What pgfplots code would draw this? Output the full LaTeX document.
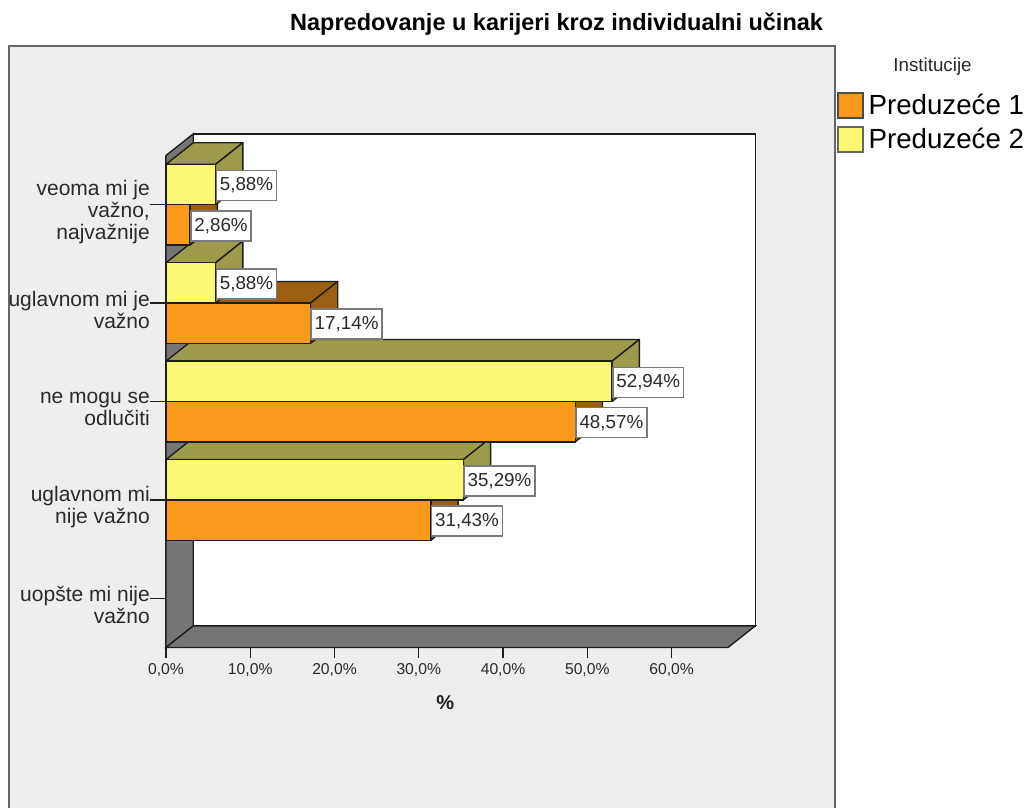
\documentclass[border=0pt]{standalone}
\usepackage{fontspec}
\setmainfont{Liberation Sans}
\usepackage{pgfplots}
\pgfplotsset{compat=1.18}
\definecolor{panel}{HTML}{EEEEEE}
\definecolor{framec}{HTML}{666666}
\definecolor{wall}{HTML}{757575}
\definecolor{ink}{HTML}{1E1E1E}
\definecolor{txt}{HTML}{2A2A2A}
\definecolor{ofront}{HTML}{FB991C}
\definecolor{oside}{HTML}{9C5F10}
\definecolor{yfront}{HTML}{FBF872}
\definecolor{yside}{HTML}{9D9B4B}
\definecolor{lab}{HTML}{7A7A7A}
% front colour, side colour, value, value+depth, y0, y1, y0+depth, y1+depth
\newcommand\threeD[8]{%
  \addplot[forget plot,fill=#2,draw=ink,line width=1.4pt,line join=round] coordinates {(0,#6)(#3,#6)(#4,#8)(3.24,#8)} --cycle;
  \addplot[forget plot,fill=#2,draw=ink,line width=1.4pt,line join=round] coordinates {(#3,#5)(#3,#6)(#4,#8)(#4,#7)} --cycle;
  \addplot[forget plot,fill=#1,draw=ink,line width=1.4pt,line join=round] coordinates {(0,#5)(#3,#5)(#3,#6)(0,#6)} --cycle;
}
\newcommand\lbl[2]{\node[anchor=west,fill=white,draw=lab,line width=1.6pt,inner xsep=3.5pt,inner ysep=0pt,minimum height=30pt,font=\fontsize{18.8}{20}\selectfont,text=txt,yshift=-1pt] at (axis cs:#1) {#2};}
\begin{document}
\begin{tikzpicture}[x=1pt,y=1pt]
\path[use as bounding box] (0,0) rectangle (1028,807);
\fill[panel] (9,-2) rectangle (835,761);
\draw[framec,line width=1.6pt] (9,-2) -- (9,761) -- (835,761) -- (835,-2);
\begin{axis}[
  at={(166pt,159.5pt)},anchor=south west,
  scale only axis,width=562pt,height=492pt,
  xmin=0,xmax=66.7,ymin=-0.5,ymax=4.5,
  clip=false,
  axis x line=bottom,axis y line=left,
  axis line style={-,draw=ink,line width=1.4pt},
  tick align=outside,major tick length=10pt,minor tick length=16pt,
  tick style={draw=ink,line width=1.3pt},
  xtick={0,10,20,30,40,50,60},
  xticklabels={{0,0\%},{10,0\%},{20,0\%},{30,0\%},{40,0\%},{50,0\%},{60,0\%}},
  x tick label style={font=\fontsize{15.7}{17}\selectfont,text=txt,inner sep=0pt,yshift=-6pt},
  ytick={0,1,2,3,4},
  minor ytick={0,1,2,3,4},
  yticklabels={{uopšte mi nije\\važno},{uglavnom mi\\nije važno},{ne mogu se\\odlučiti},{uglavnom mi je\\važno},{veoma mi je\\važno,\\najvažnije}},
  y tick label style={font=\fontsize{21}{22}\selectfont,text=txt,align=right,inner sep=0pt,xshift=-6pt,yshift=-7pt},
  xlabel={\%},
  x label style={font=\fontsize{20}{22}\selectfont\bfseries,text=ink,at={(axis description cs:0.4967,-0.112)},anchor=center},
  title={Napredovanje u karijeri kroz individualni učinak},
  title style={font=\fontsize{23.5}{25}\selectfont\bfseries,text=black,at={(axis description cs:0.695,1.254)},anchor=center},
  legend style={at={(axis cs:79.63,5.145)},anchor=north west,draw=none,fill=none,inner sep=0pt,
    font=\fontsize{27.7}{30}\selectfont,text=black,row sep=7.5pt,
    /tikz/every even column/.style={column sep=0pt}},
  legend cell align=left,
  legend image code/.code={\draw[#1] (0pt,-12.5pt) rectangle (25pt,12.5pt);},
]
% walls
\addplot[forget plot,fill=white,draw=ink,line width=1.4pt] coordinates {(3.24,-0.28)(69.94,-0.28)(69.94,4.72)(3.24,4.72)} --cycle;
\addplot[forget plot,fill=wall,draw=ink,line width=1.4pt] coordinates {(0,-0.5)(3.24,-0.28)(3.24,4.72)(0,4.5)} --cycle;
\addplot[forget plot,fill=wall,draw=ink,line width=1.4pt] coordinates {(0,-0.5)(3.24,-0.28)(69.94,-0.28)(66.7,-0.5)} --cycle;
% bars
\threeD{ofront}{oside}{31.43}{34.67}{0.59}{1}{0.81}{1.22}
\threeD{yfront}{yside}{35.29}{38.53}{1}{1.41}{1.22}{1.63}
\threeD{ofront}{oside}{48.57}{51.81}{1.59}{2}{1.81}{2.22}
\threeD{yfront}{yside}{52.94}{56.18}{2}{2.41}{2.22}{2.63}
\threeD{ofront}{oside}{17.14}{20.38}{2.59}{3}{2.81}{3.22}
\threeD{yfront}{yside}{5.88}{9.12}{3}{3.41}{3.22}{3.63}
\threeD{ofront}{oside}{2.86}{6.10}{3.59}{4}{3.81}{4.22}
\threeD{yfront}{yside}{5.88}{9.12}{4}{4.41}{4.22}{4.63}
% labels
\lbl{31.43,0.795}{31,43\%}
\lbl{35.29,1.205}{35,29\%}
\lbl{48.57,1.795}{48,57\%}
\lbl{52.94,2.205}{52,94\%}
\lbl{17.14,2.795}{17,14\%}
\lbl{5.88,3.205}{5,88\%}
\lbl{2.86,3.795}{2,86\%}
\lbl{5.88,4.205}{5,88\%}
\addlegendimage{fill=ofront,draw=ink!80!white,line width=1.4pt}
\addlegendentry{\hspace{3pt}Preduzeće 1}
\addlegendimage{fill=yfront,draw=framec,line width=1.4pt}
\addlegendentry{\hspace{3pt}Preduzeće 2}
\end{axis}
\node[font=\fontsize{18.8}{20}\selectfont,text=txt,anchor=center] at (932.5,740) {Institucije};
\end{tikzpicture}
\end{document}
